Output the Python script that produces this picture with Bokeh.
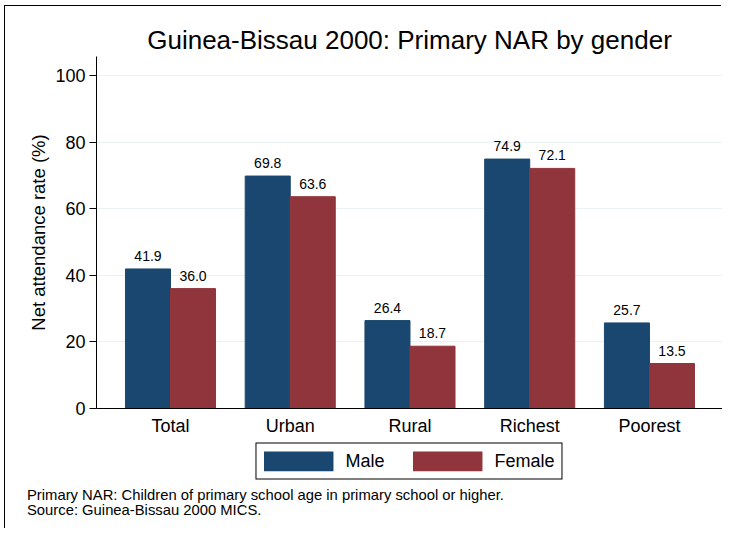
from bokeh.plotting import figure
from bokeh.models import (ColumnDataSource, Range1d, FixedTicker, Legend, LegendItem, Div)
from bokeh.layouts import column
from bokeh.transform import dodge
from bokeh.embed import file_html
from bokeh.resources import INLINE
from bokeh.core.properties import value

# ---- data ----
categories = ["Total", "Urban", "Rural", "Richest", "Poorest"]
male = [41.9, 69.8, 26.4, 74.9, 25.7]
female = [36.0, 63.6, 18.7, 72.1, 13.5]
series_names = ["Male", "Female"]
y_ticks = [0, 20, 40, 60, 80, 100]
title_text = "Guinea-Bissau 2000: Primary NAR by gender"
y_label = "Net attendance rate (%)"
notes = ["Primary NAR: Children of primary school age in primary school or higher.",
         "Source: Guinea-Bissau 2000 MICS."]

FONT = "Liberation Sans"
MALE_C = "#1a476f"
FEMALE_C = "#90353b"

idx = list(range(len(categories)))
src = ColumnDataSource(dict(
    x=idx, male=male, female=female,
    male_lbl=[f"{v:.1f}" for v in male],
    female_lbl=[f"{v:.1f}" for v in female],
))

p = figure(width=717, height=434, output_backend="svg", toolbar_location=None,
           x_range=Range1d(-0.618, 4.61), y_range=Range1d(0, 105.7),
           min_border_left=91, min_border_right=0, min_border_top=50, min_border_bottom=32)
p.outline_line_color = None
p.background_fill_color = "white"
p.border_fill_color = "white"

bw = 0.376
off = bw / 2
r_m = p.vbar(x=dodge("x", -off, range=p.x_range), top="male", width=bw, source=src,
             fill_color=MALE_C, line_color=MALE_C)
r_f = p.vbar(x=dodge("x", off, range=p.x_range), top="female", width=bw, source=src,
             fill_color=FEMALE_C, line_color=FEMALE_C)

p.text(x=dodge("x", -off, range=p.x_range), y="male", text="male_lbl", source=src,
       text_align="center", text_baseline="alphabetic", y_offset=-13,
       text_font=value(FONT), text_font_size="14px", text_color="black")
p.text(x=dodge("x", off, range=p.x_range), y="female", text="female_lbl", source=src,
       text_align="center", text_baseline="alphabetic", y_offset=-13,
       text_font=value(FONT), text_font_size="14px", text_color="black")

# title
p.title.text = title_text
p.title.align = "center"
p.title.text_font = FONT
p.title.text_font_size = "26px"
p.title.text_font_style = "normal"
p.title.text_color = "black"
p.title.standoff = 4

# axes
xa = p.xaxis[0]
xa.ticker = FixedTicker(ticks=idx)
xa.major_label_overrides = {i: c for i, c in zip(idx, categories)}
xa.major_tick_out = 0
xa.major_tick_in = 0
xa.minor_tick_line_color = None
xa.axis_line_color = "black"
xa.major_label_text_font = FONT
xa.major_label_text_font_size = "18px"
xa.major_label_text_color = "black"
xa.major_label_standoff = 7

ya = p.yaxis[0]
ya.ticker = FixedTicker(ticks=y_ticks)
ya.major_tick_out = 7
ya.major_tick_in = 0
ya.minor_tick_line_color = None
ya.axis_line_color = "black"
ya.major_tick_line_color = "black"
ya.major_label_text_font = FONT
ya.major_label_text_font_size = "18px"
ya.major_label_text_color = "black"
ya.major_label_standoff = 4
ya.axis_label = y_label
ya.axis_label_text_font = FONT
ya.axis_label_text_font_size = "18.5px"
ya.axis_label_text_font_style = "normal"
ya.axis_label_text_color = "black"
ya.axis_label_standoff = 3

p.xgrid.grid_line_color = None
p.ygrid.grid_line_color = "#eaf2f3"
p.ygrid.grid_line_width = 1

# legend strip (own small figure so nothing is clipped); its proxy renderers are hidden
p2 = figure(width=717, height=41, output_backend="svg", toolbar_location=None,
            x_axis_type=None, y_axis_type=None,
            x_range=Range1d(-0.618, 4.61), y_range=Range1d(0, 105.7),
            min_border_left=91, min_border_right=0, min_border_top=0, min_border_bottom=0)
p2.outline_line_color = None
p2.grid.grid_line_color = None
p2.border_fill_color = "white"
g_m = p2.line(x="x", y="male", source=src, line_color=MALE_C, line_width=20,
              line_cap="butt", visible=False)
g_f = p2.line(x="x", y="female", source=src, line_color=FEMALE_C, line_width=20,
              line_cap="butt", visible=False)

legend = Legend(items=[LegendItem(label=series_names[0], renderers=[g_m]),
                       LegendItem(label=series_names[1], renderers=[g_f])],
                orientation="horizontal", location="center")
legend.border_line_color = "black"
legend.border_line_alpha = 1
legend.border_line_width = 1
legend.background_fill_color = "white"
legend.background_fill_alpha = 1
legend.inactive_fill_alpha = 0
legend.click_policy = "none"
legend.padding = 7
legend.margin = 0
legend.spacing = 28
legend.glyph_width = 70
legend.glyph_height = 21
legend.label_height = 21
legend.label_standoff = 12
legend.label_text_font = FONT
legend.label_text_font_size = "18px"
legend.label_text_color = "black"
p2.add_layout(legend, "center")

notes_div = Div(text="<br>".join(notes), width=700, height=36,
                styles={"font-family": FONT, "font-size": "14.8px", "line-height": "15px",
                        "color": "black", "padding-left": "17px", "margin-top": "7px",
                        "white-space": "nowrap"})

layout = column(p, p2, notes_div, spacing=0,
                styles={"margin-left": "5px", "margin-top": "6px",
                        "box-shadow": "-1px -1px 0 0 #000"})

open("out.html", "w").write(file_html(layout, INLINE))
